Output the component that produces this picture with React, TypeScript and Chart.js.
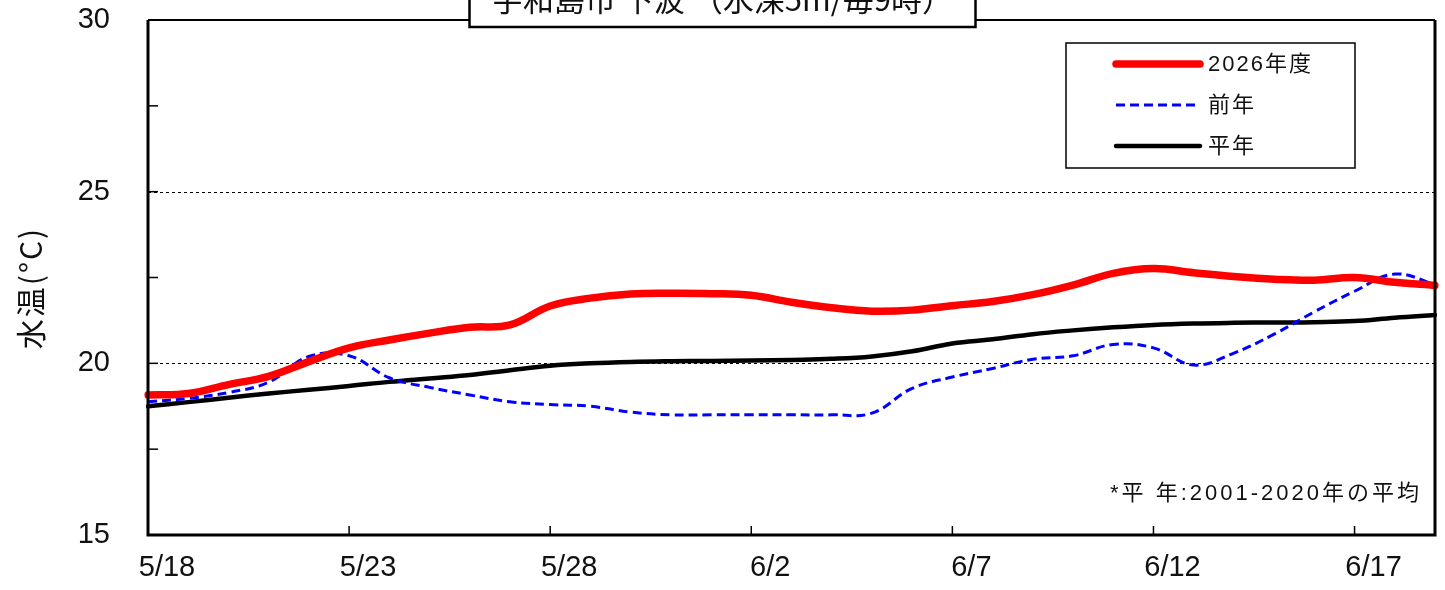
import React, { useEffect, useRef } from 'react';
import { Chart, registerables } from 'chart.js';
Chart.register(...registerables);

const dates = [
  '5/18', '5/19', '5/20', '5/21', '5/22', '5/23', '5/24', '5/25', '5/26', '5/27', '5/28', '5/29', '5/30', '5/31',
  '6/1', '6/2', '6/3', '6/4', '6/5', '6/6', '6/7', '6/8', '6/9', '6/10', '6/11', '6/12', '6/13', '6/14', '6/15',
  '6/16', '6/17', '6/18', '6/19',
];
const tickLabels = ['5/18', '5/23', '5/28', '6/2', '6/7', '6/12', '6/17'];

const thisYear = [
  19.08, 19.12, 19.38, 19.62, 20.05, 20.45, 20.68, 20.88, 21.05, 21.12, 21.67, 21.9, 22.02, 22.04,
  22.03, 21.98, 21.78, 21.62, 21.52, 21.55, 21.68, 21.8, 22.0, 22.28, 22.62, 22.76, 22.64, 22.53,
  22.45, 22.42, 22.5, 22.36, 22.27,
];
const lastYear = [
  18.88, 18.98, 19.15, 19.45, 20.2, 20.22, 19.58, 19.3, 19.08, 18.88, 18.8, 18.75, 18.58, 18.5,
  18.5, 18.5, 18.5, 18.5, 18.55, 19.27, 19.6, 19.85, 20.12, 20.22, 20.55, 20.45, 19.95, 20.3,
  20.85, 21.5, 22.1, 22.6, 22.3,
];
const normal = [
  18.75, 18.87, 19.0, 19.12, 19.23, 19.34, 19.46, 19.56, 19.66, 19.8, 19.93, 20.0, 20.04, 20.06,
  20.07, 20.08, 20.1, 20.13, 20.2, 20.35, 20.58, 20.7, 20.85, 20.96, 21.05, 21.12, 21.16, 21.18,
  21.19, 21.2, 21.23, 21.33, 21.41,
];

const seriesLabels = ['2026年度', '前年', '平年'];
const titleText = '宇和島市 下波 （水深5m/毎9時）';
const yTitle = '水温(°C)';
const footnote = '*平 年:2001-2020年の平均';
const gridValues = [20, 25];

const FONT = "'Liberation Sans', 'Noto Sans CJK JP', sans-serif";
const JFONT = "'Noto Sans CJK JP', 'Liberation Sans', sans-serif";

const decorPlugin = {
  id: 'decor',
  beforeDatasetsDraw(chart: any) {
    const { ctx, chartArea: a, scales } = chart;
    const y = scales.y;
    ctx.save();
    ctx.strokeStyle = '#000';
    ctx.lineWidth = 1;
    ctx.setLineDash([3, 3]);
    gridValues.forEach((v) => {
      const py = Math.round(y.getPixelForValue(v)) + 0.5;
      ctx.beginPath();
      ctx.moveTo(a.left, py);
      ctx.lineTo(a.right, py);
      ctx.stroke();
    });
    ctx.restore();
  },
  afterDatasetsDraw(chart: any) {
    const { ctx, chartArea: a, scales } = chart;
    const x = scales.x;
    const y = scales.y;
    ctx.save();
    ctx.strokeStyle = '#000';
    ctx.setLineDash([]);
    ctx.lineWidth = 3;
    ctx.beginPath();
    ctx.moveTo(a.left, a.top);
    ctx.lineTo(a.left, a.bottom);
    ctx.lineTo(a.right, a.bottom);
    ctx.lineTo(a.right, a.top);
    ctx.stroke();
    ctx.lineWidth = 2;
    ctx.beginPath();
    ctx.moveTo(a.left, a.top);
    ctx.lineTo(a.right, a.top);
    ctx.stroke();
    ctx.lineWidth = 1.5;
    for (let v = 15; v <= 30; v += 2.5) {
      const py = y.getPixelForValue(v);
      ctx.beginPath();
      ctx.moveTo(a.left, py);
      ctx.lineTo(a.left + 10, py);
      ctx.stroke();
    }
    tickLabels.forEach((lab) => {
      const i = dates.indexOf(lab);
      const px = x.getPixelForValue(i);
      ctx.beginPath();
      ctx.moveTo(px, a.bottom);
      ctx.lineTo(px, a.bottom - 9);
      ctx.stroke();
    });

    // legend box
    const lx = 1066, ly = 43, lw = 289, lh = 125;
    ctx.fillStyle = '#fff';
    ctx.fillRect(lx, ly, lw, lh);
    ctx.lineWidth = 1.5;
    ctx.strokeRect(lx, ly, lw, lh);
    const rows = [64, 105, 146];
    chart.data.datasets.forEach((ds: any, i: number) => {
      const ry = rows[i];
      ctx.save();
      ctx.strokeStyle = ds.borderColor;
      ctx.lineWidth = ds.borderWidth;
      ctx.lineCap = ds.borderDash && ds.borderDash.length ? 'butt' : 'round';
      ctx.setLineDash(ds.borderDash || []);
      ctx.beginPath();
      ctx.moveTo(1116, ry);
      ctx.lineTo(1200, ry);
      ctx.stroke();
      ctx.restore();
      ctx.save();
      ctx.fillStyle = '#111';
      ctx.font = `22px ${FONT}`;
      (ctx as any).letterSpacing = '2px';
      ctx.textAlign = 'left';
      ctx.textBaseline = 'middle';
      ctx.fillText(ds.label, 1208, ry + 1);
      ctx.restore();
    });

    // footnote
    ctx.save();
    ctx.fillStyle = '#111';
    ctx.font = `22px ${FONT}`;
    (ctx as any).letterSpacing = '3px';
    ctx.textAlign = 'right';
    ctx.textBaseline = 'middle';
    ctx.fillText(footnote, 1422, 494);
    ctx.restore();

    // y title
    ctx.save();
    ctx.fillStyle = '#111';
    ctx.translate(31, 288);
    ctx.rotate(-Math.PI / 2);
    ctx.font = `30px ${JFONT}`;
    (ctx as any).letterSpacing = '2px';
    ctx.textAlign = 'center';
    ctx.textBaseline = 'middle';
    ctx.fillText(yTitle, 0, 0);
    ctx.restore();

    // title box (partly off the top)
    const cw = chart.width;
    const bw = 506;
    const bx = cw / 2 - bw / 2;
    ctx.fillStyle = '#fff';
    ctx.fillRect(bx, -30, bw, 57);
    ctx.lineWidth = 2.5;
    ctx.strokeStyle = '#000';
    ctx.strokeRect(bx, -30, bw, 57);
    ctx.fillStyle = '#111';
    ctx.font = `31px ${JFONT}`;
    ctx.textAlign = 'center';
    ctx.textBaseline = 'alphabetic';
    ctx.fillText(titleText, cw / 2, 11);
    ctx.restore();
  },
};

export default function App() {
  const ref = useRef<HTMLCanvasElement | null>(null);
  useEffect(() => {
    document.body.style.margin = '0';
    const canvas = ref.current;
    if (!canvas) return;
    const chart = new Chart(canvas, {
      type: 'line',
      data: {
        labels: dates,
        datasets: [
          {
            label: seriesLabels[0],
            data: thisYear,
            borderColor: '#ff0000',
            borderWidth: 7.5,
            pointRadius: 0,
            tension: 0.4,
            borderCapStyle: 'round',
          },
          {
            label: seriesLabels[1],
            data: lastYear,
            borderColor: '#0000ff',
            borderWidth: 3,
            borderDash: [9, 5],
            pointRadius: 0,
            tension: 0.4,
          },
          {
            label: seriesLabels[2],
            data: normal,
            borderColor: '#000000',
            borderWidth: 4.5,
            pointRadius: 0,
            tension: 0.4,
            borderCapStyle: 'round',
          },
        ],
      },
      options: {
        animation: false,
        responsive: true,
        maintainAspectRatio: false,
        layout: { padding: { top: 20, right: 10, left: 0, bottom: 0 } },
        plugins: { legend: { display: false }, tooltip: { enabled: false }, title: { display: false } },
        scales: {
          x: {
            type: 'category',
            offset: false,
            grid: { display: false, drawTicks: false },
            border: { display: false },
            afterFit: (s: any) => { s.height = 55; s.paddingLeft = 0; s.paddingRight = 0; },
            ticks: {
              autoSkip: false,
              maxRotation: 0,
              minRotation: 0,
              labelOffset: 19,
              padding: 16,
              color: '#111',
              font: { family: FONT, size: 29 },
              callback: (_v: any, i: number) => (tickLabels.includes(dates[i]) ? dates[i] : ''),
            },
          },
          y: {
            min: 15,
            max: 30,
            grid: { display: false, drawTicks: false },
            border: { display: false },
            afterFit: (s: any) => { s.width = 148; s.paddingTop = 0; s.paddingBottom = 0; },
            ticks: {
              stepSize: 2.5,
              padding: 38,
              color: '#111',
              font: { family: FONT, size: 29 },
              callback: (v: any) => (Number(v) % 5 === 0 ? String(v) : ''),
            },
          },
        },
      },
      plugins: [decorPlugin],
    });
    return () => chart.destroy();
  }, []);
  return (
    <div style={{ width: 1445, height: 590, position: 'relative', background: '#fff' }}>
      <canvas ref={ref} />
    </div>
  );
}
